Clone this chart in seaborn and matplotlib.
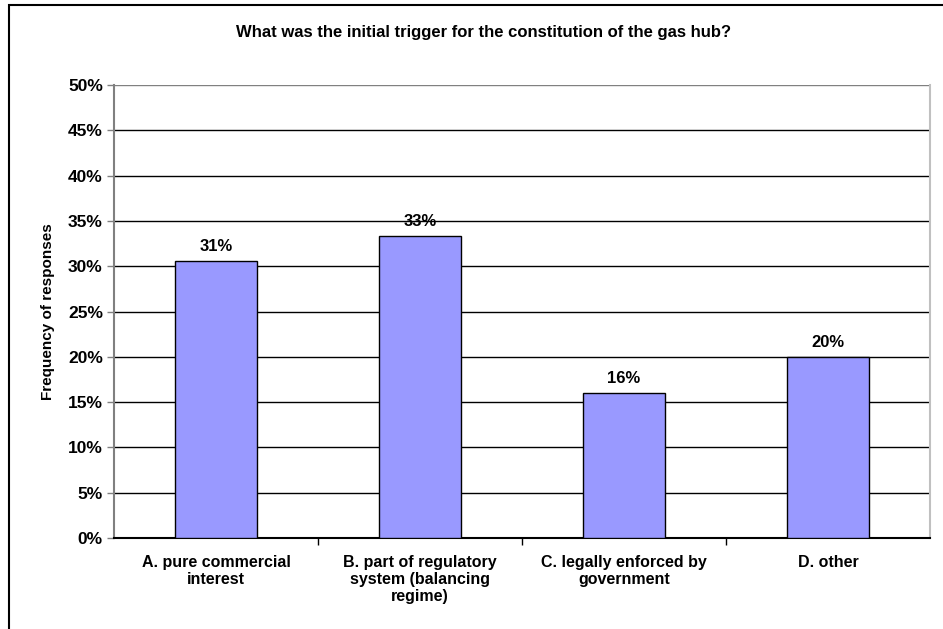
import matplotlib
matplotlib.use("Agg")
import matplotlib.pyplot as plt
import seaborn as sns
import pandas as pd
from matplotlib.patches import Rectangle

categories = ["A. pure commercial\ninterest",
              "B. part of regulatory\nsystem (balancing\nregime)",
              "C. legally enforced by\ngovernment",
              "D. other"]
values = [30.6, 33.3, 16.0, 20.0]
labels = ["31%", "33%", "16%", "20%"]
yticks = [0, 5, 10, 15, 20, 25, 30, 35, 40, 45, 50]

sns.set_theme(style="white")
plt.rcParams['font.family'] = ['Liberation Sans', 'DejaVu Sans']
plt.rcParams['font.weight'] = 'bold'
plt.rcParams['text.color'] = 'black'
plt.rcParams['axes.labelcolor'] = 'black'
plt.rcParams['xtick.color'] = 'black'
plt.rcParams['ytick.color'] = 'black'

fig = plt.figure(figsize=(9.43, 6.29), dpi=100)
fig.patches.append(Rectangle((9/943, -0.1), 1.2, 1 - 5/629 + 0.1, transform=fig.transFigure,
                             fill=False, edgecolor='black', linewidth=1.5, zorder=0))
ax = fig.add_axes([114/943, 1 - 538/629, (930 - 114)/943, (538 - 85)/629])

df = pd.DataFrame({"cat": categories, "val": values})
sns.barplot(data=df, x="cat", y="val", ax=ax, color="#9999FF", width=0.4,
            edgecolor="black", linewidth=1, saturation=1, zorder=3)

ax.set_ylim(0, 50)
ax.set_xlim(-0.5, 3.5)
ax.set_yticks(yticks)
ax.set_yticklabels([f"{t}%" for t in yticks], fontsize=12.5, fontweight='bold')
for t in yticks[1:]:
    ax.axhline(t, color='black' if t < 50 else '#808080', linewidth=1, zorder=1)

ax.set_xticks([0, 1, 2, 3])
ax.set_xticklabels(categories, fontsize=11.5, fontweight='bold', linespacing=1.2)
ax.set_xticks([0.5, 1.5, 2.5], minor=True)
ax.tick_params(axis='x', which='major', length=0, pad=12)
ax.tick_params(axis='x', which='minor', length=5, width=1, color='black', direction='out', bottom=True)
ax.tick_params(axis='y', length=5, width=1, color='#808080', labelcolor='black', direction='out', left=True, pad=3)

for i, (v, l) in enumerate(zip(values, labels)):
    ax.text(i, v + 0.8, l, ha='center', va='bottom', fontsize=12, fontweight='bold', color='black')

ax.set_xlabel("")
ax.set_ylabel("Frequency of responses", fontsize=11, fontweight='bold', labelpad=9, color='black')
fig.text(484/943, 1 - 33/629, "What was the initial trigger for the constitution of the gas hub?",
         fontsize=12, fontweight='bold', ha='center', va='center', color='black')

ax.spines['top'].set_visible(False)
ax.spines['left'].set_color('#808080')
ax.spines['left'].set_linewidth(1.5)
ax.spines['right'].set_color('#c0c0c0')
ax.spines['right'].set_linewidth(1.5)
ax.spines['bottom'].set_color('black')
ax.spines['bottom'].set_linewidth(1.5)

fig.savefig("out.png", dpi=100)
